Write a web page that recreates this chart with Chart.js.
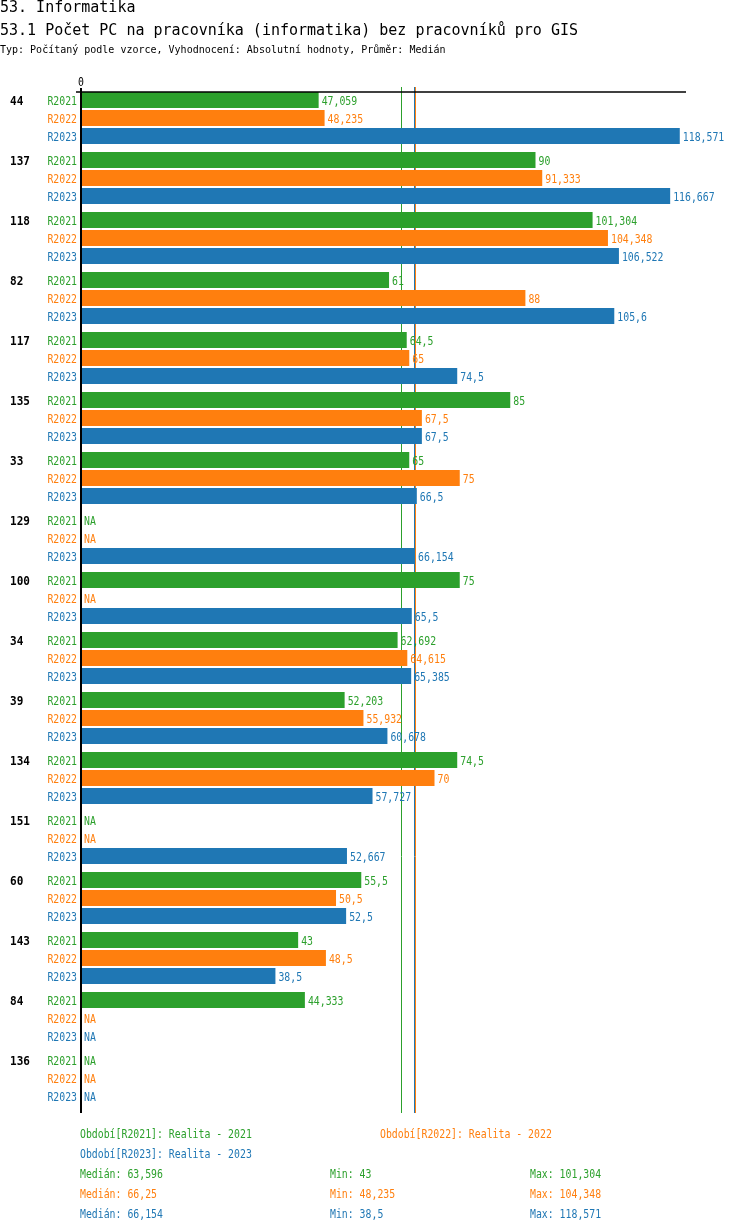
<!DOCTYPE html>
<html>
<head>
<meta charset="utf-8">
<script src="https://cdn.jsdelivr.net/npm/chart.js@4.4.1/dist/chart.umd.min.js"></script>
<style>
    body { margin: 0; background: #fff; font-family: "DejaVu Sans Mono", monospace; }
    #wrap { position: relative; width: 750px; height: 1232px; }
    #wrap canvas { position: absolute; left: 0; top: 0; }
    .t { position: absolute; white-space: pre; line-height: 1; transform-origin: 0 0; }
    .s { font-size: 12px; transform: scaleX(0.82); }
</style>
</head>

<body>
<div id="wrap">
    <canvas id="myChart" width="750" height="1232"></canvas>
    <div class="t" style="left:0; top:0; font-size:15px;">53. Informatika</div>
    <div class="t" style="left:0; top:23px; font-size:15px;">53.1 Počet PC na pracovníka (informatika) bez pracovníků pro GIS</div>
    <div class="t" style="left:0; top:45px; font-size:10px;">Typ: Počítaný podle vzorce, Vyhodnocení: Absolutní hodnoty, Průměr: Medián</div>
    <div id="footer"></div>
</div>

<script>
    const groups = ["44", "137", "118", "82", "117", "135", "33", "129", "100", "34", "39", "134", "151", "60", "143", "84", "136"];
    const seriesNames = ["R2021", "R2022", "R2023"];
    const seriesTitles = ["Realita - 2021", "Realita - 2022", "Realita - 2023"];
    const seriesColors = ["#2ca02c", "#ff7f0e", "#1f77b4"];

    const r2021 = [47.059, 90, 101.304, 61, 64.5, 85, 65, null, 75, 62.692, 52.203, 74.5, null, 55.5, 43, 44.333, null];
    const r2022 = [48.235, 91.333, 104.348, 88, 65, 67.5, 75, null, null, 64.615, 55.932, 70, null, 50.5, 48.5, null, null];
    const r2023 = [118.571, 116.667, 106.522, 105.6, 74.5, 67.5, 66.5, 66.154, 65.5, 65.385, 60.678, 57.727, 52.667, 52.5, 38.5, null, null];
    const seriesValues = [r2021, r2022, r2023];

    const xMax = 120;

    function fmt(v) {
        return String(Math.round(v * 1000) / 1000).replace(".", ",");
    }

    function median(arr) {
        const s = arr.filter(v => v !== null).sort((a, b) => a - b);
        const m = Math.floor(s.length / 2);
        return s.length % 2 ? s[m] : (s[m - 1] + s[m]) / 2;
    }

    const medians = seriesValues.map(median);
    const mins = seriesValues.map(a => Math.min(...a.filter(v => v !== null)));
    const maxs = seriesValues.map(a => Math.max(...a.filter(v => v !== null)));

    // legend + statistics under the chart
    const footer = document.getElementById("footer");
    function addText(txt, left, top, color) {
        const d = document.createElement("div");
        d.className = "t s";
        d.style.left = left + "px";
        d.style.top = top + "px";
        d.style.color = color;
        d.textContent = txt;
        footer.appendChild(d);
    }
    addText("Období[" + seriesNames[0] + "]: " + seriesTitles[0], 80, 1128, seriesColors[0]);
    addText("Období[" + seriesNames[1] + "]: " + seriesTitles[1], 380, 1128, seriesColors[1]);
    addText("Období[" + seriesNames[2] + "]: " + seriesTitles[2], 80, 1148, seriesColors[2]);
    for (let i = 0; i < 3; i++) {
        const top = 1168 + i * 20;
        addText("Medián: " + fmt(medians[i]), 80, top, seriesColors[i]);
        addText("Min: " + fmt(mins[i]), 330, top, seriesColors[i]);
        addText("Max: " + fmt(maxs[i]), 530, top, seriesColors[i]);
    }

    const FONT = '"DejaVu Sans Mono", monospace';
    const SX = 0.82;

    // narrow text, like the original pixel font
    function drawText(ctx, txt, x, y, align) {
        ctx.save();
        ctx.translate(x, y);
        ctx.scale(SX, 1);
        ctx.textAlign = align;
        ctx.fillText(txt, 0, 0);
        ctx.restore();
    }

    const decorPlugin = {
        id: "decor",
        beforeDatasetsDraw(chart) {
            const ctx = chart.ctx;
            const x = chart.scales.x;
            const area = chart.chartArea;
            ctx.save();
            ctx.lineWidth = 1;
            medians.forEach((m, i) => {
                const px = Math.floor(x.getPixelForValue(m) - 0.5) + 0.5;
                ctx.strokeStyle = seriesColors[i];
                ctx.beginPath();
                ctx.moveTo(px, area.top - 1);
                ctx.lineTo(px, area.bottom + 5);
                ctx.stroke();
            });
            ctx.restore();
        },
        afterDatasetsDraw(chart) {
            const ctx = chart.ctx;
            const x = chart.scales.x;
            const area = chart.chartArea;
            const x0 = x.getPixelForValue(0);
            ctx.save();

            // axes
            ctx.strokeStyle = "#000";
            ctx.lineWidth = 1.5;
            ctx.beginPath();
            ctx.moveTo(x0 - 5, area.top + 4);
            ctx.lineTo(area.right - 1, area.top + 4);
            ctx.stroke();
            ctx.lineWidth = 2;
            ctx.beginPath();
            ctx.moveTo(x0, area.top);
            ctx.lineTo(x0, area.bottom + 5);
            ctx.stroke();

            ctx.textBaseline = "alphabetic";
            ctx.fillStyle = "#000";
            ctx.font = "12px " + FONT;
            drawText(ctx, "0", x0, area.top - 2, "center");

            chart.data.datasets.forEach((ds, i) => {
                const meta = chart.getDatasetMeta(i);
                meta.data.forEach((el, j) => {
                    const y = el.y + 5;
                    const v = ds.data[j];
                    if (i === 0) {
                        ctx.fillStyle = "#000";
                        ctx.font = "bold 12px " + FONT;
                        ctx.save();
                        ctx.translate(10, y);
                        ctx.scale(0.92, 1);
                        ctx.textAlign = "left";
                        ctx.fillText(groups[j], 0, 0);
                        ctx.restore();
                    }
                    ctx.fillStyle = seriesColors[i];
                    ctx.font = "12px " + FONT;
                    drawText(ctx, seriesNames[i], x0 - 4, y, "right");
                    if (v === null) {
                        drawText(ctx, "NA", x0 + 3, y, "left");
                    } else {
                        drawText(ctx, fmt(v), x.getPixelForValue(v) + 3, y, "left");
                    }
                });
            });
            ctx.restore();
        }
    };

    const myChart = new Chart("myChart", {
        type: "bar",
        data: {
            labels: groups,
            datasets: seriesValues.map((vals, i) => ({
                label: seriesNames[i],
                data: vals,
                backgroundColor: seriesColors[i],
                borderWidth: 0,
                categoryPercentage: 0.9,
                barPercentage: 16 / 18
            }))
        },
        options: {
            indexAxis: "y",
            responsive: false,
            animation: false,
            devicePixelRatio: 1,
            layout: {
                padding: { left: 81, right: 63, top: 88, bottom: 124 }
            },
            scales: {
                x: { display: false, min: 0, max: xMax },
                y: { display: false }
            },
            plugins: {
                legend: { display: false },
                tooltip: { enabled: false }
            }
        },
        plugins: [decorPlugin]
    });
</script>
</body>
</html>
